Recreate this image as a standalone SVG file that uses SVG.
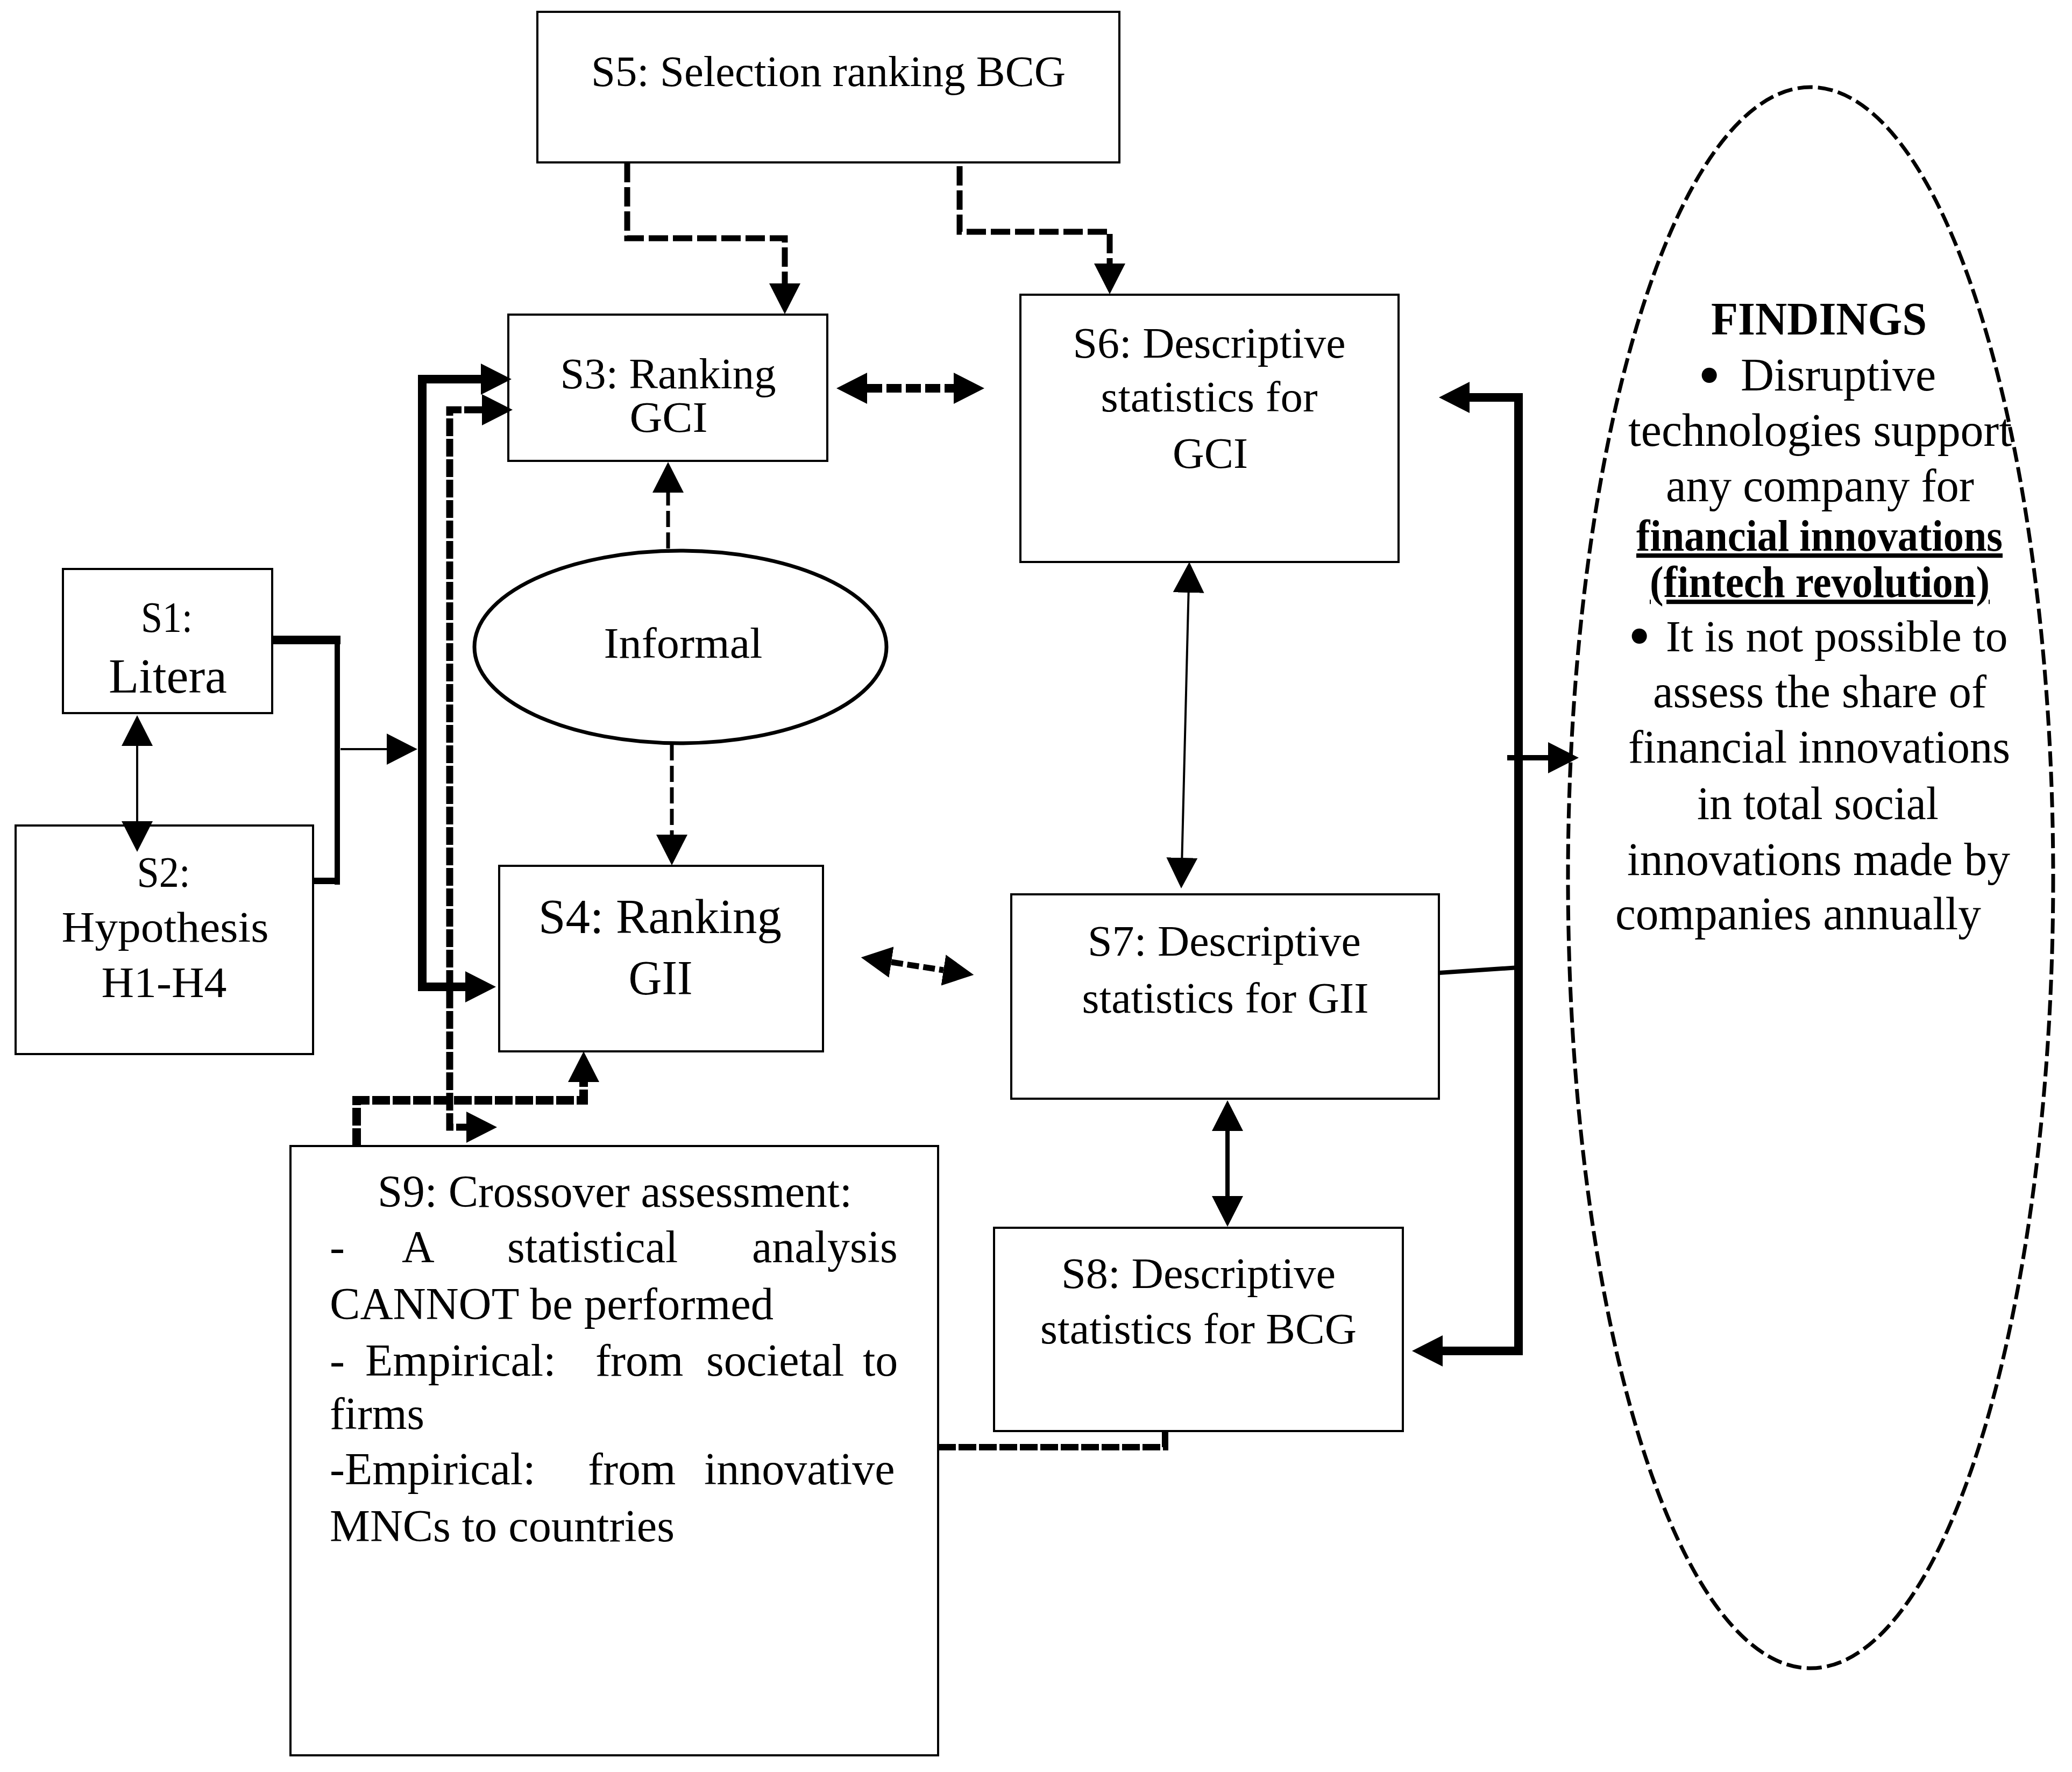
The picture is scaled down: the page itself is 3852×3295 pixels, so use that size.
<svg xmlns="http://www.w3.org/2000/svg" width="3852" height="3295" viewBox="0 0 3852 3295">
<style>
.box{fill:#fff;stroke:#000;stroke-width:4}
.t{font-family:"Liberation Serif","Times New Roman",serif;font-size:80px;fill:#000}
.c{text-anchor:middle}
.ln{fill:none;stroke:#000;stroke-linejoin:miter}
.f{font-size:86px}
.b{font-weight:bold}
.bul{font-size:118px}
</style>
<defs>
<marker id="ah" viewBox="0 0 57 58" markerUnits="userSpaceOnUse" markerWidth="57" markerHeight="58" refX="0" refY="29" orient="auto-start-reverse"><path d="M0,0 L57,29 L0,58 z" fill="#000"/></marker>
</defs>
<rect width="3852" height="3295" fill="#fff"/>

<g id="S5">
<rect class="box" x="999" y="22" width="1082" height="280"/>
<text class="t c" x="1540" y="160" textLength="882" lengthAdjust="spacingAndGlyphs">S5: Selection ranking BCG</text>
</g>
<g id="S3">
<rect class="box" x="945" y="585" width="593" height="272"/>
<text class="t c" x="1242" y="722" textLength="401" lengthAdjust="spacingAndGlyphs">S3: Ranking</text>
<text class="t c" x="1243" y="803" textLength="145" lengthAdjust="spacingAndGlyphs">GCI</text>
</g>
<g id="S6">
<rect class="box" x="1897" y="548" width="703" height="497"/>
<text class="t c" x="2248" y="665" textLength="507" lengthAdjust="spacingAndGlyphs">S6: Descriptive</text>
<text class="t c" x="2248" y="765" textLength="403" lengthAdjust="spacingAndGlyphs">statistics for</text>
<text class="t c" x="2250" y="870" textLength="140" lengthAdjust="spacingAndGlyphs">GCI</text>
</g>
<g id="S1">
<rect class="box" x="117" y="1058" width="389" height="268"/>
<text class="t c" x="310" y="1175" textLength="96" lengthAdjust="spacingAndGlyphs">S1:</text>
<text class="t c" x="312" y="1288" style="font-size:90px" textLength="220" lengthAdjust="spacingAndGlyphs">Litera</text>
</g>
<g id="S2">
<rect class="box" x="29" y="1535" width="553" height="425"/>
<text class="t c" x="304" y="1649" textLength="99" lengthAdjust="spacingAndGlyphs">S2:</text>
<text class="t c" x="307" y="1751" textLength="385" lengthAdjust="spacingAndGlyphs">Hypothesis</text>
<text class="t c" x="305" y="1854" textLength="233" lengthAdjust="spacingAndGlyphs">H1-H4</text>
</g>
<g id="S4">
<rect class="box" x="928" y="1610" width="602" height="345"/>
<text class="t c" x="1227" y="1735" style="font-size:90px" textLength="452" lengthAdjust="spacingAndGlyphs">S4: Ranking</text>
<text class="t c" x="1228" y="1849" style="font-size:90px" textLength="119" lengthAdjust="spacingAndGlyphs">GII</text>
</g>
<g id="Informal">
<ellipse cx="1265" cy="1203" rx="383" ry="179" fill="#fff" stroke="#000" stroke-width="7"/>
<text class="t c" x="1270" y="1223" textLength="295" lengthAdjust="spacingAndGlyphs">Informal</text>
</g>
<g id="S7">
<rect class="box" x="1880" y="1663" width="795" height="380"/>
<text class="t c" x="2276" y="1777" textLength="508" lengthAdjust="spacingAndGlyphs">S7: Descriptive</text>
<text class="t c" x="2278" y="1883" textLength="533" lengthAdjust="spacingAndGlyphs">statistics for GII</text>
</g>
<g id="S8">
<rect class="box" x="1848" y="2283" width="760" height="378"/>
<text class="t c" x="2228" y="2395" textLength="510" lengthAdjust="spacingAndGlyphs">S8: Descriptive</text>
<text class="t c" x="2228" y="2498" textLength="588" lengthAdjust="spacingAndGlyphs">statistics for BCG</text>
</g>
<g id="S9">
<rect class="box" x="540" y="2131" width="1204" height="1133"/>
<g class="t" style="font-size:84px">
<text class="c" x="1143" y="2244" textLength="882" lengthAdjust="spacingAndGlyphs">S9: Crossover assessment:</text>
<text y="2347"><tspan x="613">-</tspan><tspan x="747">A</tspan><tspan x="943">statistical</tspan><tspan x="1398">analysis</tspan></text>
<text x="613" y="2453" textLength="825" lengthAdjust="spacingAndGlyphs">CANNOT be performed</text>
<text y="2558"><tspan x="613">-</tspan><tspan x="679">Empirical:</tspan><tspan x="1107">from</tspan><tspan x="1313">societal</tspan><tspan x="1604">to</tspan></text>
<text x="613" y="2657" textLength="176" lengthAdjust="spacingAndGlyphs">firms</text>
<text y="2760"><tspan x="613">-Empirical:</tspan><tspan x="1093">from</tspan><tspan x="1309">innovative</tspan></text>
<text x="613" y="2866" textLength="641" lengthAdjust="spacingAndGlyphs">MNCs to countries</text>
</g>
</g>
<g id="Findings">
<ellipse cx="3366" cy="1632" rx="451" ry="1470" fill="none" stroke="#000" stroke-width="7" stroke-dasharray="28 10"/>
<g class="t f">
<text class="b" x="3181" y="622" textLength="401" lengthAdjust="spacingAndGlyphs">FINDINGS</text>
<text y="726"><tspan class="bul" x="3157" dy="11">•</tspan><tspan x="3236" dy="-11">Disruptive</tspan></text>
<text x="3027" y="829" textLength="713" lengthAdjust="spacingAndGlyphs">technologies support</text>
<text x="3097" y="932" textLength="573" lengthAdjust="spacingAndGlyphs">any company for</text>
<text class="b" x="3042" y="1024" style="font-size:82px" text-decoration="underline" textLength="681" lengthAdjust="spacingAndGlyphs">financial innovations</text>
<text class="b" x="3067" y="1110" style="font-size:82px" text-decoration="underline" textLength="632" lengthAdjust="spacingAndGlyphs">(fintech revolution)</text>
<text y="1211"><tspan class="bul" x="3027" dy="11">•</tspan><tspan x="3097" dy="-11" style="font-size:83.5px">It is not possible to</tspan></text>
<text x="3073" y="1315" textLength="620" lengthAdjust="spacingAndGlyphs">assess the share of</text>
<text x="3027" y="1418" textLength="710" lengthAdjust="spacingAndGlyphs">financial innovations</text>
<text x="3155" y="1523" textLength="449" lengthAdjust="spacingAndGlyphs">in total social</text>
<text x="3025" y="1627" textLength="712" lengthAdjust="spacingAndGlyphs">innovations made by</text>
<text x="3003" y="1728" textLength="680" lengthAdjust="spacingAndGlyphs">companies annually</text>
</g>
</g>

<g id="connectors">
<path class="ln" d="M506,1190 H633" stroke-width="16"/>
<path class="ln" d="M627,1182 V1645" stroke-width="10"/>
<path class="ln" d="M582,1638 H632" stroke-width="12"/>
<path class="ln" d="M633,1393 H719" stroke-width="4" marker-end="url(#ah)"/>
<path class="ln" d="M255,1387 V1527" stroke-width="4" marker-start="url(#ah)" marker-end="url(#ah)"/>
<path class="ln" d="M894,705 H785 V1835 H865" stroke-width="16" marker-start="url(#ah)" marker-end="url(#ah)"/>
<path class="ln" d="M896,762 H836 V2096 H867" stroke-width="13" stroke-dasharray="33 5" marker-start="url(#ah)" marker-end="url(#ah)"/>
<path class="ln" d="M1166,303 V443 H1459 V527" stroke-width="11" stroke-dasharray="36 9" marker-end="url(#ah)"/>
<path class="ln" d="M1784,309 V431 H2063 V490" stroke-width="11" stroke-dasharray="36 9" marker-end="url(#ah)"/>
<path class="ln" d="M1612,722 H1773" stroke-width="16" stroke-dasharray="28 8" marker-start="url(#ah)" marker-end="url(#ah)"/>
<path class="ln" d="M1242,1020 V916" stroke-width="7" stroke-dasharray="30 10" marker-end="url(#ah)"/>
<path class="ln" d="M1249,1384 V1552" stroke-width="7" stroke-dasharray="30 10" marker-end="url(#ah)"/>
<path class="ln" d="M1657,1789 L1754,1804" stroke-width="11" stroke-dasharray="22 8" marker-start="url(#ah)" marker-end="url(#ah)"/>
<path class="ln" d="M2209.6,1102 L2197.4,1595" stroke-width="4" marker-start="url(#ah)" marker-end="url(#ah)"/>
<path class="ln" d="M2282,2103 V2224" stroke-width="8" marker-start="url(#ah)" marker-end="url(#ah)"/>
<path class="ln" d="M663,2131 V2046 H1085 V2012" stroke-width="16" stroke-dasharray="33 5" marker-end="url(#ah)"/>
<path class="ln" d="M1744,2691 H2166 V2663" stroke-width="12" stroke-dasharray="33 5"/>
<path class="ln" d="M2732,739 H2823 V2512 H2682" stroke-width="16" marker-start="url(#ah)" marker-end="url(#ah)"/>
<path class="ln" d="M2675,1809 L2823,1799" stroke-width="8"/>
<path class="ln" d="M2802,1409 H2878" stroke-width="10" marker-end="url(#ah)"/>
</g>
</svg>
